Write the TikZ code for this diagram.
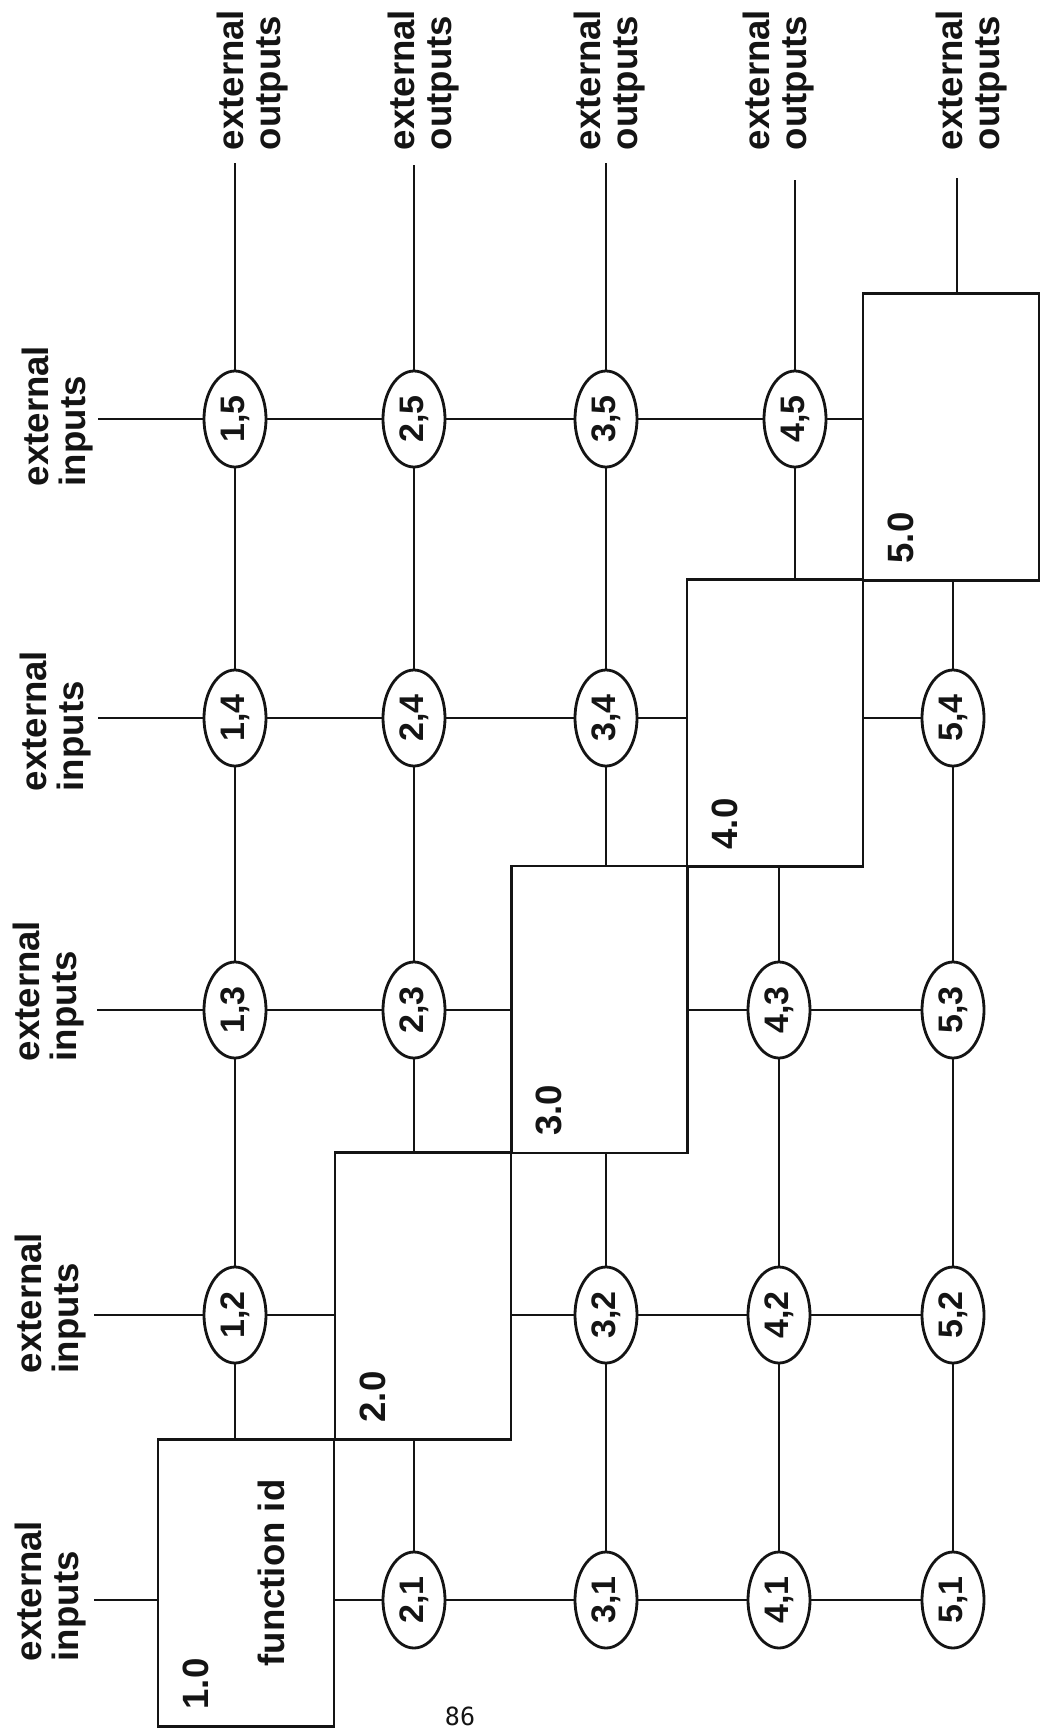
\documentclass[tikz,border=0pt]{standalone}
\usepackage{fontspec}
\setmainfont{Liberation Sans}
\newfontfamily\pagemono{DejaVu Sans Mono}
\usepackage{tikz}
\usetikzlibrary{shapes.geometric, positioning, calc}
\definecolor{inkblack}{RGB}{20,20,20}
\tikzset{
  fbox/.style={rectangle, draw=inkblack, minimum width=88pt,
    minimum height=143.5pt, inner sep=0pt, line width=1.4pt},
  iface/.style={ellipse, draw=inkblack, rotate=90, minimum width=48pt,
    minimum height=31pt, inner sep=0pt, line width=1.4pt,
    font=\fontsize{17}{17}\selectfont\bfseries, text=inkblack},
  extlbl/.style={rotate=90, align=left, inner sep=0pt,
    font=\fontsize{18.3}{18.5}\selectfont\bfseries, text=inkblack},
  fnum/.style={rotate=90, inner sep=0pt,
    font=\fontsize{18.3}{18.5}\selectfont\bfseries, text=inkblack},
  pgnum/.style={inner sep=0pt, font=\fontsize{12.5}{12.5}\selectfont\pagemono,
    text=inkblack},
  conn/.style={line width=1.1pt, color=inkblack}
}

\begin{document}
\begin{tikzpicture}[x=0.5pt, y=-0.5pt]
  \path[use as bounding box, fill=white] (0,0) rectangle (1043,1731);

  % Function boxes on the diagonal
  \foreach \k/\x/\y in {1/246/1583, 2/423/1296, 3/599.5/1009.5, 4/775/723, 5/951/437} {
    \node[fbox] (f\k) at (\x,\y) {};
    \node[fnum] (n\k) at ($(f\k.south west)+(39,-44)$) {\k.0};
  }
  \node[fnum] (fid) at (271,1573) {function id};

  % Interface ellipses
  \foreach \i/\j/\x/\y in {1/2/235/1315, 1/3/235/1010, 1/4/235/718, 1/5/235/419,
      2/1/414/1600, 2/3/414/1010, 2/4/414/718, 2/5/414/419,
      3/1/606/1600, 3/2/606/1315, 3/4/606/718, 3/5/606/419,
      4/1/779/1600, 4/2/779/1315, 4/3/779/1010, 4/5/795/419,
      5/1/953/1600, 5/2/953/1315, 5/3/953/1010, 5/4/953/718} {
    \node[iface] (e\i\j) at (\x,\y) {\i,\j};
  }

  % External inputs (left)
  \foreach \j/\lx/\ly/\cx/\cy in {1/51/1591/94/1600, 2/51/1303/94/1315,
      3/49/991/97/1010, 4/56/721/98/718, 5/58/416/98/419} {
    \node[extlbl] (li\j) at (\lx,\ly) {external\\inputs};
    \coordinate (i\j) at (\cx,\cy);
  }

  % External outputs (top)
  \foreach \i/\lx/\cx/\cy in {1/253/235/163, 2/424/414/165, 3/610/606/163,
      4/779/795/180, 5/972/957/178} {
    \node[extlbl] (lo\i) at (\lx,80) {external\\outputs};
    \coordinate (o\i) at (\cx,\cy);
  }

  % Row lines
  \draw[conn] (o1) -- (e15) -- (e14) -- (e13) -- (e12) -- (e12 |- f1.north);
  \draw[conn] (o2) -- (e25) -- (e24) -- (e23) -- (e23 |- f2.north);
  \draw[conn] (e21 |- f2.south) -- (e21);
  \draw[conn] (o3) -- (e35) -- (e34) -- (e34 |- f3.north);
  \draw[conn] (e32 |- f3.south) -- (e32) -- (e31);
  \draw[conn] (o4) -- (e45) -- (e45 |- f4.north);
  \draw[conn] (e43 |- f4.south) -- (e43) -- (e42) -- (e41);
  \draw[conn] (o5) -- (o5 |- f5.north);
  \draw[conn] (e54 |- f5.south) -- (e54) -- (e53) -- (e52) -- (e51);

  % Column lines
  \draw[conn] (i1) -- (i1 -| f1.west);
  \draw[conn] (f1.east |- e21) -- (e21) -- (e31) -- (e41) -- (e51);
  \draw[conn] (i2) -- (e12) -- (e12 -| f2.west);
  \draw[conn] (f2.east |- e32) -- (e32) -- (e42) -- (e52);
  \draw[conn] (i3) -- (e13) -- (e23) -- (e23 -| f3.west);
  \draw[conn] (f3.east |- e43) -- (e43) -- (e53);
  \draw[conn] (i4) -- (e14) -- (e24) -- (e34) -- (e34 -| f4.west);
  \draw[conn] (f4.east |- e54) -- (e54);
  \draw[conn] (i5) -- (e15) -- (e25) -- (e35) -- (e45) -- (e45 -| f5.west);

  % Page number
  \node[pgnum] (pg) at (460,1716) {86};
\end{tikzpicture}
\end{document}
